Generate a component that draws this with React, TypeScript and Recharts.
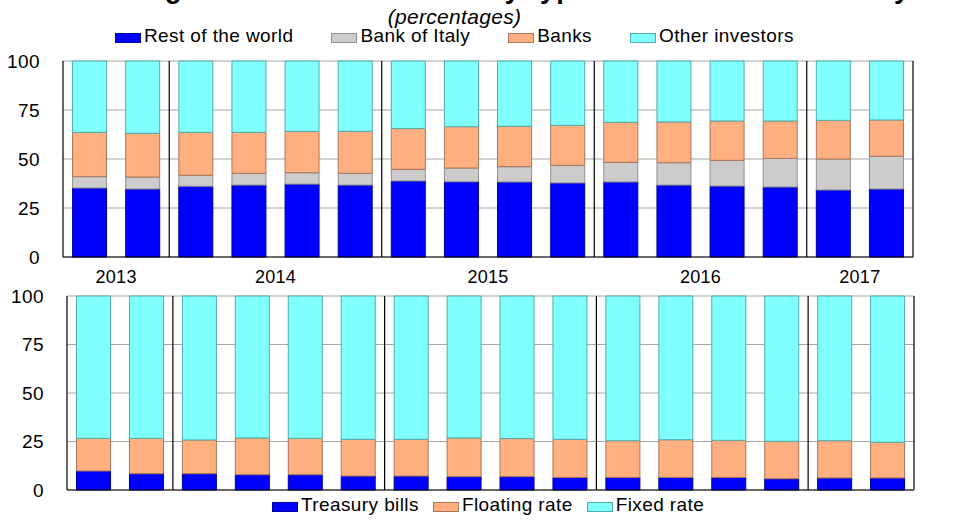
import React from 'react';
import { BarChart, Bar, XAxis, YAxis, CartesianGrid, ReferenceLine } from 'recharts';

const quarters = [
  '2013 Q3', '2013 Q4',
  '2014 Q1', '2014 Q2', '2014 Q3', '2014 Q4',
  '2015 Q1', '2015 Q2', '2015 Q3', '2015 Q4',
  '2016 Q1', '2016 Q2', '2016 Q3', '2016 Q4',
  '2017 Q1', '2017 Q2',
];
const years = ['2013', '2014', '2015', '2016', '2017'];
const yearCounts = [2, 4, 4, 4, 2];

const restOfWorld = [35.2, 34.7, 36.1, 36.7, 37.2, 36.7, 38.8, 38.4, 38.3, 37.8, 38.3, 36.7, 36.2, 35.7, 34.2, 34.7];
const bankOfItaly = [5.8, 6.1, 5.6, 6.0, 5.8, 6.0, 5.9, 7.0, 7.8, 9.0, 10.0, 11.4, 13.1, 14.6, 15.8, 16.7];
const banks = [22.6, 22.3, 21.9, 20.9, 21.1, 21.4, 20.9, 21.1, 20.6, 20.4, 20.4, 20.8, 20.1, 19.1, 19.7, 18.5];
const otherInvestors = [36.4, 36.9, 36.4, 36.4, 35.9, 35.9, 34.4, 33.5, 33.3, 32.8, 31.3, 31.1, 30.6, 30.6, 30.3, 30.1];

const treasuryBills = [9.8, 8.4, 8.4, 7.9, 7.9, 7.2, 7.2, 6.9, 6.9, 6.5, 6.5, 6.5, 6.5, 5.8, 6.2, 6.2];
const floatingRate = [16.8, 18.2, 17.4, 18.9, 18.7, 18.9, 18.9, 19.9, 19.6, 19.6, 18.9, 19.4, 19.1, 19.3, 19.2, 18.4];
const fixedRate = [73.4, 73.4, 74.2, 73.2, 73.4, 73.9, 73.9, 73.2, 73.5, 73.9, 74.6, 74.1, 74.4, 74.9, 74.6, 75.4];

const yTicks = [0, 25, 50, 75, 100];

const TITLE = 'Italian government securities by type of holder and maturity';
const SUBTITLE = '(percentages)';

const holderSeries = [
  { key: 'row', name: 'Rest of the world', values: restOfWorld, color: '#0000FF', stroke: '#00009a' },
  { key: 'boi', name: 'Bank of Italy', values: bankOfItaly, color: '#CCCCCC', stroke: '#909090' },
  { key: 'banks', name: 'Banks', values: banks, color: '#FFAF80', stroke: '#a8765a' },
  { key: 'other', name: 'Other investors', values: otherInvestors, color: '#80FFFF', stroke: '#55aaaa' },
];
const typeSeries = [
  { key: 'tb', name: 'Treasury bills', values: treasuryBills, color: '#0000FF', stroke: '#00009a' },
  { key: 'fl', name: 'Floating rate', values: floatingRate, color: '#FFAF80', stroke: '#a8765a' },
  { key: 'fx', name: 'Fixed rate', values: fixedRate, color: '#80FFFF', stroke: '#55aaaa' },
];

const buildRows = (series: typeof holderSeries) =>
  quarters.map((q, i) => {
    const row: Record<string, any> = { q };
    series.forEach((s) => { row[s.key] = s.values[i]; });
    return row;
  });

const holderData = buildRows(holderSeries);
const typeData = buildRows(typeSeries);

// first quarter of each year after the first (divider at its band start)
const boundaryIdx: number[] = [];
// quarter whose band start is the middle of each year group
const middleIdx: number[] = [];
{
  let acc = 0;
  yearCounts.forEach((n, i) => {
    middleIdx.push(acc + n / 2);
    acc += n;
    if (i < yearCounts.length - 1) boundaryIdx.push(acc);
  });
}

const FONT = '"Liberation Sans", Arial, Helvetica, sans-serif';

const RightTick = (props: any) => {
  const { x, y, payload } = props;
  return (
    <text x={x + 56} y={y} dy="0.355em" textAnchor="end" fill="#000" fontSize={19} style={{ letterSpacing: 0.4 }}>
      {payload.value}
    </text>
  );
};

const YearLabel = (props: any) => {
  const { viewBox, text } = props;
  if (!viewBox) return null;
  const { x, y, height } = viewBox;
  return (
    <text x={x} y={y + height + 26} textAnchor="middle" fill="#000" fontSize={18} style={{ letterSpacing: 0.3 }}>
      {text}
    </text>
  );
};

const LegendRow = ({ items, left, top, gap }: { items: typeof holderSeries; left: number; top: number; gap: number }) => (
  <div
    style={{
      position: 'absolute', left, top, display: 'flex', whiteSpace: 'nowrap',
      fontSize: 19, letterSpacing: 0.4, lineHeight: '20px', color: '#000',
    }}
  >
    {items.map((it, i) => (
      <div key={it.key} style={{ display: 'flex', alignItems: 'flex-start', marginLeft: i ? gap : 0 }}>
        <span
          style={{
            display: 'inline-block', width: 24, height: 8, marginTop: 6.6, marginRight: 3,
            background: it.color, border: `1px solid ${it.stroke}`,
          }}
        />
        <span>{it.name}</span>
      </div>
    ))}
  </div>
);

const Panel = ({
  data, series, height, marginTop, leftWidth, rightWidth, axisHeight, showYears,
}: {
  data: any[]; series: typeof holderSeries; height: number; marginTop: number;
  leftWidth: number; rightWidth: number; axisHeight: number; showYears: boolean;
}) => (
  <BarChart
    width={973}
    height={height}
    data={data}
    margin={{ top: marginTop, right: 0, bottom: 0, left: 0 }}
    barCategoryGap="18%"
  >
    <CartesianGrid xAxisId="cat" yAxisId="left" vertical={false} stroke="#a6a6a6" />
    <XAxis
      xAxisId="cat"
      dataKey="q"
      height={axisHeight}
      tickSize={0}
      tickLine={false}
      tick={false}
      axisLine={{ stroke: '#000', strokeWidth: 1.2 }}
    />
    <YAxis
      yAxisId="left"
      domain={[0, 100]}
      ticks={yTicks}
      interval={0}
      width={leftWidth}
      tickSize={0}
      tickMargin={23}
      tickLine={false}
      axisLine={{ stroke: '#000', strokeWidth: 1.2 }}
      tick={{ fill: '#000', fontSize: 19, style: { letterSpacing: 0.4 } } as any}
    />
    <YAxis
      yAxisId="right"
      orientation="right"
      domain={[0, 100]}
      ticks={yTicks}
      interval={0}
      width={rightWidth}
      tickSize={0}
      tickMargin={0}
      tickLine={false}
      axisLine={{ stroke: '#000', strokeWidth: 1.2 }}
      tick={<RightTick />}
    />
    {series.map((s) => (
      <Bar
        key={s.key}
        dataKey={s.key}
        name={s.name}
        stackId="a"
        xAxisId="cat"
        yAxisId="left"
        fill={s.color}
        stroke={s.stroke}
        strokeWidth={1}
        isAnimationActive={false}
      />
    ))}
    {boundaryIdx.map((b) => (
      <ReferenceLine
        key={`b${b}`}
        x={quarters[b]}
        position="start"
        xAxisId="cat"
        yAxisId="left"
        stroke="#000"
        strokeWidth={1.2}
      />
    ))}
    {showYears &&
      middleIdx.map((m, i) => (
        <ReferenceLine
          key={`y${m}`}
          x={quarters[m]}
          position="start"
          xAxisId="cat"
          yAxisId="left"
          stroke="none"
          strokeOpacity={0}
          label={<YearLabel text={years[i]} />}
        />
      ))}
  </BarChart>
);

export default function App() {
  return (
    <div
      style={{
        position: 'absolute', left: 0, top: 0, width: 973, height: 521,
        overflow: 'hidden', background: '#fff', fontFamily: FONT,
      }}
    >
      <svg width={973} height={10} style={{ position: 'absolute', left: 0, top: 0, overflow: 'visible' }}>
        <text x={70} y={-2} fontSize={27} fontWeight="bold" fill="#000" fontFamily={FONT} style={{ letterSpacing: 1.2 }}>
          {TITLE}
        </text>
      </svg>
      <div
        style={{
          position: 'absolute', left: 0, top: 6.2, width: 909, textAlign: 'center',
          fontSize: 21, fontStyle: 'italic', lineHeight: '21px', letterSpacing: 0.3, color: '#000',
        }}
      >
        {SUBTITLE}
      </div>
      <LegendRow items={holderSeries} left={115} top={26.4} gap={38} />
      <div style={{ position: 'absolute', left: 0, top: 0 }}>
        <Panel
          data={holderData}
          series={holderSeries}
          height={288}
          marginTop={61}
          leftWidth={63}
          rightWidth={60}
          axisHeight={31}
          showYears
        />
      </div>
      <div style={{ position: 'absolute', left: 0, top: 286 }}>
        <Panel
          data={typeData}
          series={typeSeries}
          height={235}
          marginTop={10}
          leftWidth={67}
          rightWidth={59}
          axisHeight={31}
          showYears={false}
        />
      </div>
      <LegendRow items={typeSeries} left={272} top={495.4} gap={14} />
    </div>
  );
}
